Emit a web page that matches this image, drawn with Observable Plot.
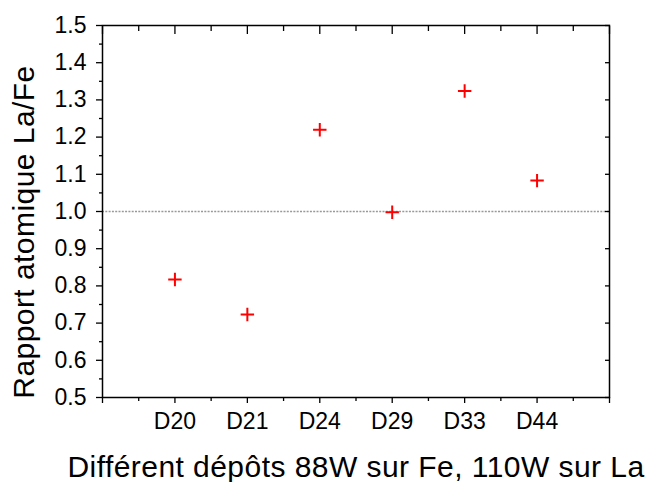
<!DOCTYPE html>
<html><head><meta charset="utf-8">
<script src="https://cdn.jsdelivr.net/npm/d3@7"></script>
<script src="https://cdn.jsdelivr.net/npm/@observablehq/plot@0.6"></script>
<style>body{margin:0;background:#fff}</style>
</head><body><div id="chart"></div>
<script>
const categories = ["D20", "D21", "D24", "D29", "D33", "D44"];
const ratios = [0.817, 0.723, 1.220, 0.998, 1.324, 1.083];
const yTicks = [0.5, 0.6, 0.7, 0.8, 0.9, 1.0, 1.1, 1.2, 1.3, 1.4, 1.5];
const referenceLevel = [1.0];
const xTitle = "Différent dépôts 88W sur Fe, 110W sur La";
const yTitle = "Rapport atomique La/Fe";

const data = categories.map((c, i) => ({cat: c, pos: i + 1, ratio: ratios[i]}));
const xMajor = d3.range(0, categories.length + 2);
const xMinor = xMajor.slice(0, -1).map(d => d + 0.5);
const yMinor = yTicks.slice(0, -1).map(d => +(d + 0.05).toFixed(2));
const font = "'Liberation Sans', Arial, sans-serif";
const blank = () => "";

const chart = Plot.plot({
  width: 651, height: 482,
  marginLeft: 102, marginRight: 42, marginTop: 25, marginBottom: 85,
  style: {fontFamily: font, fontSize: "23px", background: "#fff", color: "#000"},
  x: {type: "linear", domain: [0, categories.length + 1]},
  y: {domain: [0.5, 1.5]},
  marks: [
    Plot.ruleY(referenceLevel, {stroke: "#999", strokeDasharray: "2,1.3", strokeWidth: 1.3}),
    Plot.axisY(yTicks, {anchor: "left", tickSize: 6, tickPadding: 10, fontSize: 23, tickFormat: d => d.toFixed(1), label: null, strokeWidth: 1.3}),
    Plot.axisY(yMinor, {anchor: "left", tickSize: 3, tickFormat: blank, label: null, strokeWidth: 1.3}),
    Plot.axisY(yTicks, {anchor: "right", tickSize: 5, dx: -5, tickFormat: blank, label: null, strokeWidth: 1.3}),
    Plot.axisX(xMajor, {anchor: "bottom", tickSize: 6, tickPadding: 9, fontSize: 23, tickFormat: i => categories[i - 1] ?? "", label: null, strokeWidth: 1.3}),
    Plot.axisX(xMinor, {anchor: "bottom", tickSize: 4, tickFormat: blank, label: null, strokeWidth: 1.3}),
    Plot.axisX(xMajor, {anchor: "top", tickSize: 8, dy: 8, tickFormat: blank, label: null, strokeWidth: 1.3}),
    Plot.axisX(xMinor, {anchor: "top", tickSize: 5, dy: 5, tickFormat: blank, label: null, strokeWidth: 1.3}),
    Plot.frame({stroke: "#000", strokeWidth: 1.5}),
    Plot.dot(data, {x: "pos", y: "ratio", symbol: "plus", r: 4.4, stroke: "#ff0000", strokeWidth: 2}),
    Plot.text([xTitle], {text: d => d, frameAnchor: "bottom", textAnchor: "middle", dy: 79, lineAnchor: "bottom", fontSize: 30, fill: "#000"}),
    Plot.text([yTitle], {text: d => d, frameAnchor: "left", textAnchor: "middle", rotate: -90, dx: -69, dy: 20.5, lineAnchor: "bottom", fontSize: 30, fill: "#000"})
  ]
});
chart.querySelectorAll("g[aria-label='text'] text").forEach(t => t.style.letterSpacing = "0.45px");
document.getElementById("chart").appendChild(chart);
</script>
</body></html>
